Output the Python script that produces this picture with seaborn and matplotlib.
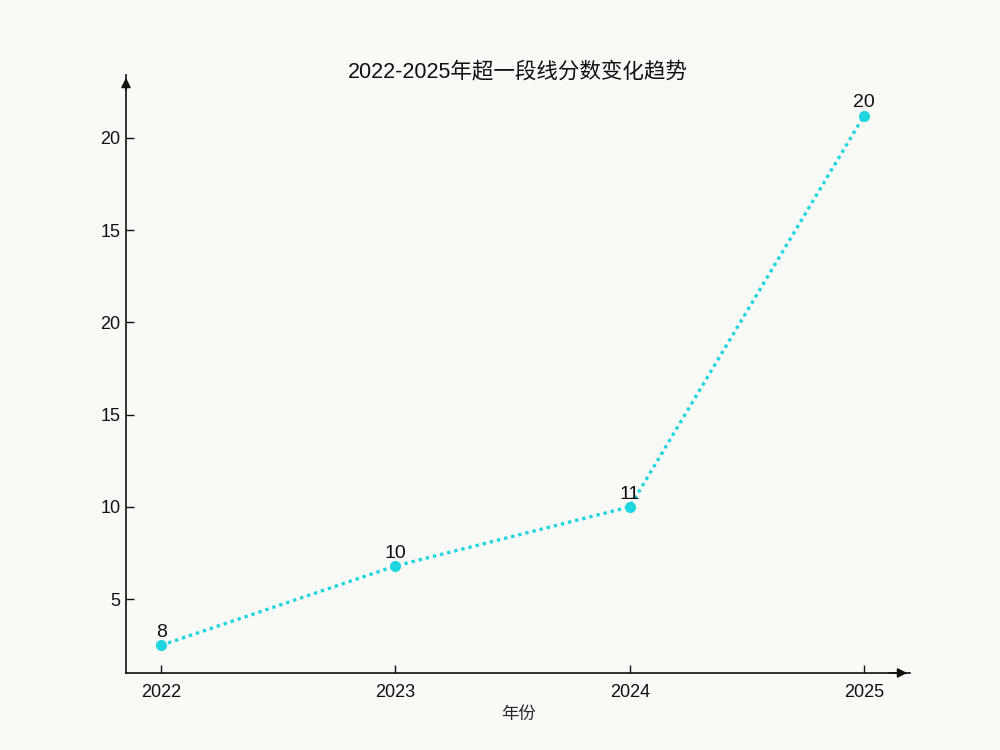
import matplotlib
matplotlib.use("Agg")
import matplotlib.pyplot as plt
import pandas as pd
import seaborn as sns

# values
YEARS = [2022, 2023, 2024, 2025]
PLOT_VALUES = [2.5, 6.8, 10.0, 31.2]   # where the points sit on the y scale
POINT_LABELS = ["8", "10", "11", "20"]  # numbers printed above the points
Y_TICKS = [5, 10, 15, 20, 25, 30]
Y_TICK_LABELS = ["5", "10", "15", "20", "15", "20"]

TITLE = "2022-2025年超一段线分数变化趋势"
X_LABEL = "年份"
LINE_COLOR = "#1fd6e0"
BG = "#f9f9f6"


def main():
    sns.set_theme(style="white")
    plt.rcParams["font.family"] = ["Liberation Sans", "Noto Sans CJK SC", "DejaVu Sans"]

    df = pd.DataFrame({"year": YEARS, "value": PLOT_VALUES})

    fig = plt.figure(figsize=(10, 7.5), dpi=100, facecolor=BG)
    ax = fig.add_axes([0.126, 0.1027, 0.784, 0.7973])
    ax.set_facecolor(BG)

    sns.lineplot(
        data=df,
        x="year",
        y="value",
        color=LINE_COLOR,
        linewidth=2.4,
        linestyle=(0, (1, 1.2)),
        marker="o",
        markersize=8,
        markeredgewidth=0,
        ax=ax,
    )

    # numbers above each point
    for x, y, lab in zip(YEARS, PLOT_VALUES, POINT_LABELS):
        ax.annotate(
            lab,
            (x, y),
            xytext=(0, 3),
            textcoords="offset points",
            ha="center",
            va="bottom",
            fontsize=14,
            color="#111111",
        )

    ax.set_xlim(2021.85, 2025.196)
    ax.set_ylim(1.0, 33.4)
    ax.set_xticks(YEARS)
    ax.set_xticklabels([str(y) for y in YEARS])
    ax.set_yticks(Y_TICKS)
    ax.set_yticklabels(Y_TICK_LABELS)
    ax.tick_params(axis="both", direction="in", length=6, width=1,
                   labelsize=13, colors="#111111", pad=4,
                   left=True, bottom=True)
    ax.tick_params(axis="x", pad=8)

    # spines with arrow heads
    for side in ["top", "right"]:
        ax.spines[side].set_visible(False)
    for side in ["left", "bottom"]:
        ax.spines[side].set_color("#111111")
        ax.spines[side].set_linewidth(1.2)
    ax.annotate("", xy=(0, 1.0), xytext=(0, 0.97), xycoords="axes fraction",
                arrowprops=dict(arrowstyle="-|>", color="#111111", lw=1.2,
                                mutation_scale=14), annotation_clip=False)
    ax.annotate("", xy=(1.0, 0), xytext=(0.97, 0), xycoords="axes fraction",
                arrowprops=dict(arrowstyle="-|>", color="#111111", lw=1.2,
                                mutation_scale=14), annotation_clip=False)

    ax.set_xlabel(X_LABEL, fontsize=12.5, labelpad=4)
    ax.set_ylabel("")
    fig.text(0.518, 1 - 72 / 750, TITLE, ha="center", va="center",
             fontsize=15.5, color="#111111")

    fig.savefig("out.png", dpi=100, facecolor=fig.get_facecolor())


if __name__ == "__main__":
    main()
